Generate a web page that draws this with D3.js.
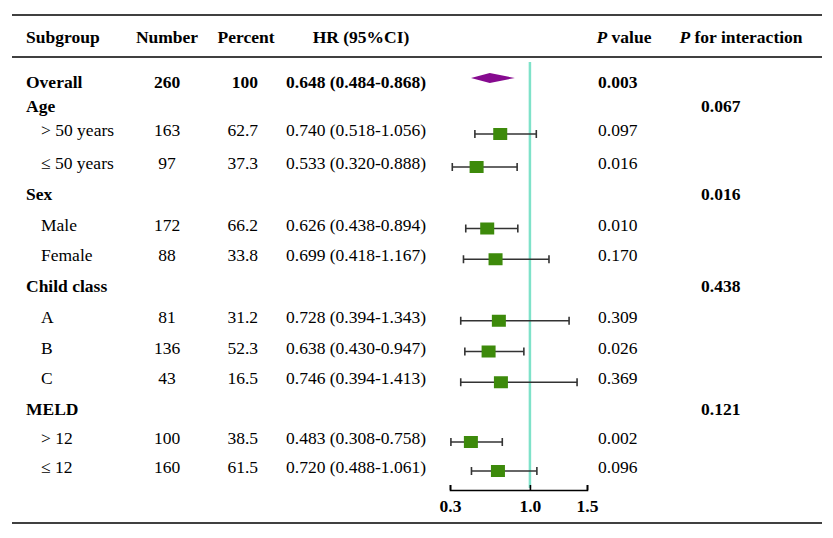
<!DOCTYPE html>
<html>
<head>
<meta charset="utf-8">
<script src="https://cdn.jsdelivr.net/npm/d3@7"></script>
<style>
  body { margin: 0; background: #fff; }
  text { font-family: "Liberation Serif", "Times New Roman", serif; font-size: 17.5px; fill: #000; }
</style>
</head>
<body>
<div id="chart"></div>
<script>
// rows of the forest plot, top to bottom
const subgroups = ["Overall", "Age", "> 50 years", "\u2264 50 years", "Sex", "Male", "Female",
  "Child class", "A", "B", "C", "MELD", "> 12", "\u2264 12"]
// 0 = overall, 1 = group heading, 2 = subgroup
const rowType = [0, 1, 2, 2, 1, 2, 2, 1, 2, 2, 2, 1, 2, 2]
const numbers = ["260", null, "163", "97", null, "172", "88", null, "81", "136", "43", null, "100", "160"]
const percents = ["100", null, "62.7", "37.3", null, "66.2", "33.8", null, "31.2", "52.3", "16.5", null, "38.5", "61.5"]
const hr = [0.648, null, 0.740, 0.533, null, 0.626, 0.699, null, 0.728, 0.638, 0.746, null, 0.483, 0.720]
const lower = [0.484, null, 0.518, 0.320, null, 0.438, 0.418, null, 0.394, 0.430, 0.394, null, 0.308, 0.488]
const upper = [0.868, null, 1.056, 0.888, null, 0.894, 1.167, null, 1.343, 0.947, 1.413, null, 0.758, 1.061]
const pValues = ["0.003", null, "0.097", "0.016", null, "0.010", "0.170", null, "0.309", "0.026", "0.369", null, "0.002", "0.096"]
const pInteraction = [null, "0.067", null, null, "0.016", null, null, "0.438", null, null, null, "0.121", null, null]
const axisTicks = [0.3, 1.0, 1.5]

var width = 833
var height = 538

const svg = d3.select("#chart").append("svg")
  .attr("width", width)
  .attr("height", height)

const fmt = d3.format(".3f")
const rows = subgroups.map((s, i) => ({ i, s, type: rowType[i] }))

// row positions (rows at the top sit a bit tighter)
const y = d3.scaleLinear().domain([0, 1, 2, 3, 11, 13]).range([82, 106, 130, 163, 409, 467])
const x = d3.scaleLinear().domain([0.3, 1.5]).range([450, 587])

// table rules
const rules = [15, 57, 523]
svg.selectAll("line.rule").data(rules).join("line")
  .attr("x1", 12).attr("x2", 822)
  .attr("y1", d => d).attr("y2", d => d)
  .attr("stroke", "#000").attr("stroke-width", 1.6)

// header
const head = svg.append("g").attr("font-weight", "bold")
head.append("text").attr("x", 26).attr("y", 37).attr("dy", "0.35em").text("Subgroup")
head.append("text").attr("x", 167).attr("y", 37).attr("dy", "0.35em").attr("text-anchor", "middle").text("Number")
head.append("text").attr("x", 246).attr("y", 37).attr("dy", "0.35em").attr("text-anchor", "middle").text("Percent")
head.append("text").attr("x", 361).attr("y", 37).attr("dy", "0.35em").attr("text-anchor", "middle").text("HR (95%CI)")
const pv = head.append("text").attr("x", 624).attr("y", 37).attr("dy", "0.35em").attr("text-anchor", "middle")
pv.append("tspan").attr("font-style", "italic").text("P")
pv.append("tspan").text(" value")
const pi = head.append("text").attr("x", 741).attr("y", 37).attr("dy", "0.35em").attr("text-anchor", "middle")
pi.append("tspan").attr("font-style", "italic").text("P")
pi.append("tspan").text(" for interaction")

// table body
const body = svg.append("g").selectAll("g").data(rows).join("g")
  .attr("transform", d => `translate(0,${y(d.i)})`)
  .attr("font-weight", d => d.type < 2 ? "bold" : "normal")

body.append("text").attr("x", d => d.type === 2 ? 41 : 26).attr("dy", "0.35em").text(d => d.s)
body.filter(d => numbers[d.i]).append("text").attr("x", 167).attr("dy", "0.35em")
  .attr("text-anchor", "middle").text(d => numbers[d.i])
body.filter(d => percents[d.i]).append("text").attr("x", 258).attr("dy", "0.35em")
  .attr("text-anchor", "end").text(d => percents[d.i])
body.filter(d => hr[d.i] != null).append("text").attr("x", 286).attr("dy", "0.35em")
  .text(d => `${fmt(hr[d.i])} (${fmt(lower[d.i])}-${fmt(upper[d.i])})`)
body.filter(d => pValues[d.i]).append("text").attr("x", 598).attr("dy", "0.35em").text(d => pValues[d.i])
body.filter(d => pInteraction[d.i]).append("text").attr("x", 701).attr("dy", "0.35em").text(d => pInteraction[d.i])

// reference line at HR = 1
svg.append("line")
  .attr("x1", x(1)).attr("x2", x(1))
  .attr("y1", 62).attr("y2", 488)
  .attr("stroke", "#7fe2c9").attr("stroke-width", 2.5)

// error bars and squares for subgroups
const est = rows.filter(d => d.type === 2)
const marks = svg.append("g").selectAll("g").data(est).join("g")
  .attr("transform", d => `translate(0,${y(d.i) + 4})`)
marks.append("line")
  .attr("x1", d => x(lower[d.i])).attr("x2", d => x(upper[d.i]))
  .attr("stroke", "#333").attr("stroke-width", 1.5)
marks.selectAll("line.cap").data(d => [lower[d.i], upper[d.i]]).join("line")
  .attr("x1", v => x(v)).attr("x2", v => x(v))
  .attr("y1", -4).attr("y2", 4)
  .attr("stroke", "#333").attr("stroke-width", 1.6)
marks.append("rect")
  .attr("x", d => x(hr[d.i]) - 7).attr("y", -6)
  .attr("width", 14).attr("height", 12)
  .attr("fill", "#3d8a0b")

// overall diamond
const ov = rows.filter(d => d.type === 0)
svg.append("g").selectAll("path").data(ov).join("path")
  .attr("d", d => {
    const cy = y(d.i) - 4
    return `M${x(lower[d.i])},${cy}L${x(hr[d.i])},${cy - 5}L${x(upper[d.i])},${cy}L${x(hr[d.i])},${cy + 5}Z`
  })
  .attr("fill", "#860a8f")

// axis with upward ticks
const axis = svg.append("g")
  .attr("transform", "translate(0,490)")
  .call(d3.axisBottom(x).tickValues(axisTicks).tickFormat(d3.format(".1f"))
    .tickSizeInner(-5).tickSizeOuter(-5).tickPadding(10))
axis.selectAll("path, line").attr("stroke", "#000").attr("stroke-width", 1.6)
axis.selectAll("text")
  .style("font-family", "'Liberation Serif', 'Times New Roman', serif")
  .style("font-size", "17.5px").style("font-weight", "bold").attr("fill", "#000")
</script>
</body>
</html>
